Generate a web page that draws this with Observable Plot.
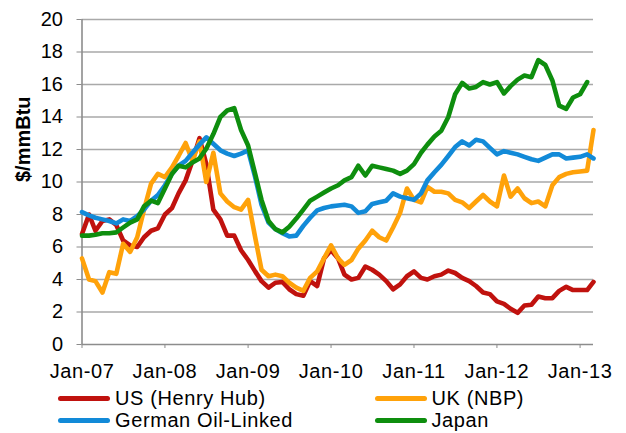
<!DOCTYPE html>
<html>
<head>
<meta charset="utf-8">
<script src="https://cdn.jsdelivr.net/npm/d3@7"></script>
<script src="https://cdn.jsdelivr.net/npm/@observablehq/plot@0.6"></script>
<style>
  body { margin: 0; background: #fff; font-family: "Liberation Sans", Arial, sans-serif; }
  #chart svg { display: block; }
  .legend { position: relative; width: 626px; height: 47px; font-size: 20px; color: #000; letter-spacing: 0.6px; }
  .item { position: absolute; display: flex; align-items: center; height: 22px; white-space: nowrap; }
  .sw { width: 52px; height: 5px; border-radius: 3px; margin-right: 5px; }
</style>
</head>
<body>
<div id="chart"></div>
<div class="legend" id="legend"></div>
<script>
// Series names and colours
const seriesNames = ["US (Henry Hub)", "UK (NBP)", "German Oil-Linked", "Japan"];
const seriesColors = ["#C0120E", "#FFA20A", "#128AD8", "#0E8E0E"];

// X-axis tick labels (one per January)
const tickLabels = ["Jan-07", "Jan-08", "Jan-09", "Jan-10", "Jan-11", "Jan-12", "Jan-13"];
const yTicks = [0, 2, 4, 6, 8, 10, 12, 14, 16, 18, 20];

// Monthly values, Jan-07 .. Mar-13 ($/mmBtu)
const usHenryHub = [
  6.8, 8.0, 7.0, 7.6, 7.7, 7.35, 6.4, 6.1, 6.0, 6.6, 7.0, 7.15,
  8.0, 8.4, 9.3, 10.1, 11.3, 12.7, 11.1, 8.3, 7.7, 6.7, 6.7, 5.8,
  5.2, 4.5, 3.9, 3.5, 3.8, 3.85, 3.4, 3.1, 3.0, 3.9, 3.6, 5.3,
  5.8, 5.3, 4.3, 4.0, 4.1, 4.8, 4.6, 4.3, 3.9, 3.4, 3.7, 4.2,
  4.5, 4.1, 4.0, 4.2, 4.3, 4.55, 4.4, 4.1, 3.9, 3.6, 3.2, 3.1,
  2.65, 2.5, 2.2, 1.95, 2.4, 2.45, 2.95, 2.85, 2.85, 3.3, 3.55, 3.35,
  3.35, 3.35, 3.85
];
const ukNBP = [
  5.3, 4.0, 3.9, 3.2, 4.45, 4.35, 6.2, 5.7, 6.6, 8.3, 9.9, 10.5,
  10.3, 10.9, 11.6, 12.4, 11.3, 12.5, 10.0, 11.8, 9.3, 8.8, 8.45, 8.3,
  8.9, 6.6, 4.6, 4.2, 4.3, 4.2, 3.8, 3.5, 3.3, 4.1, 4.5, 5.3,
  6.1, 5.3, 4.9, 5.2, 5.9, 6.4, 7.0, 6.6, 6.4, 7.2, 8.1, 9.6,
  8.9, 8.75, 9.7, 9.4, 9.4, 9.3, 8.9, 8.75, 8.4, 8.8, 9.2, 8.8,
  8.5, 10.4, 9.1, 9.6, 9.0, 8.7, 8.8, 8.5, 9.8, 10.3, 10.5, 10.6,
  10.65, 10.7, 13.2
];
const germanOilLinked = [
  8.15, 7.95, 7.8, 7.7, 7.6, 7.45, 7.7, 7.6, 7.9, 8.3, 8.85, 9.2,
  9.8, 10.5, 11.0, 11.3, 11.8, 12.3, 12.75, 12.35, 11.95, 11.75, 11.6, 11.75,
  11.95, 10.3, 8.6, 7.5, 7.1, 6.85, 6.65, 6.7, 7.3, 7.8, 8.25, 8.4,
  8.5, 8.55, 8.6, 8.5, 8.1, 8.2, 8.65, 8.75, 8.85, 9.3, 9.1, 9.0,
  8.9, 9.3, 10.1, 10.6, 11.05, 11.6, 12.15, 12.5, 12.25, 12.6, 12.5, 12.1,
  11.7, 11.9, 11.8, 11.7, 11.55, 11.4, 11.3, 11.5, 11.7, 11.7, 11.45, 11.5,
  11.55, 11.7, 11.45
];
const japan = [
  6.7, 6.7, 6.75, 6.85, 6.85, 6.9, 7.2, 7.5, 7.7, 8.5, 8.85, 8.7,
  9.6, 10.5, 11.0, 10.9, 11.2, 11.45, 12.05, 12.95, 14.0, 14.4, 14.55, 13.2,
  12.25, 10.5, 8.9, 7.6, 7.1, 6.9, 7.25, 7.75, 8.3, 8.85, 9.1, 9.35,
  9.6, 9.8, 10.1, 10.3, 11.0, 10.4, 11.0, 10.9, 10.8, 10.7, 10.5, 10.7,
  11.1, 11.8, 12.3, 12.8, 13.15, 14.0, 15.4, 16.1, 15.75, 15.85, 16.15, 16.0,
  16.15, 15.45, 15.9, 16.3, 16.55, 16.45, 17.5, 17.2, 16.25, 14.7, 14.5, 15.2,
  15.4, 16.15, null
];

const seriesValues = [usHenryHub, ukNBP, germanOilLinked, japan];
const months = d3.utcMonth.range(new Date(Date.UTC(2007, 0, 1)), new Date(Date.UTC(2013, 3, 1)));
const yearTicks = d3.utcYear.range(new Date(Date.UTC(2007, 0, 1)), new Date(Date.UTC(2014, 0, 1)));

const rows = [];
seriesNames.forEach((name, i) => {
  seriesValues[i].forEach((v, j) => {
    if (v != null) rows.push({ series: name, date: months[j], value: v });
  });
});

const font = '"Liberation Sans", Arial, sans-serif';
const grid = "#a9a9a9";
const axisGray = "#8c8c8c";

const chart = Plot.plot({
  width: 626,
  height: 386,
  marginLeft: 81.5,
  marginRight: 33,
  marginTop: 19,
  marginBottom: 42,
  style: { fontFamily: font, fontSize: "20px", color: "#000", background: "#fff" },
  x: { type: "utc", domain: [months[0], months[months.length - 1]] },
  y: { domain: [0, 20] },
  color: { domain: seriesNames, range: seriesColors },
  marks: [
    Plot.gridY(yTicks.filter(d => d > 0), { stroke: grid, strokeOpacity: 1, strokeWidth: 1.6 }),
    Plot.ruleY([0], { stroke: axisGray, strokeWidth: 1.6 }),
    Plot.ruleX([months[0]], { stroke: axisGray, strokeWidth: 1.6 }),
    Plot.axisY({ ticks: yTicks, tickSize: 5, tickPadding: 14, stroke: axisGray, strokeOpacity: 1, label: null, fontSize: 20, tickFormat: d => String(d) }),
    Plot.axisX({ ticks: yearTicks, tickSize: 4, tickPadding: 15, stroke: axisGray, strokeOpacity: 1, label: null, fontSize: 20, tickFormat: (d, i) => tickLabels[i] }),
    Plot.line(rows, { x: "date", y: "value", z: "series", stroke: "series", strokeWidth: 4.6, strokeLinejoin: "round", strokeLinecap: "round" }),
    Plot.text(["$/mmBtu"], { frameAnchor: "left", rotate: -90, dx: -58.5, fontWeight: "bold", fontSize: 20, fill: "#000" })
  ]
});
document.getElementById("chart").appendChild(chart);
d3.select(chart).selectAll('g[aria-label="x-axis tick label"] text').style("letter-spacing", "0.6px");

// Legend
const legendPos = [
  { left: 58, top: 1 },
  { left: 374.5, top: 1 },
  { left: 58, top: 23.5 },
  { left: 374.5, top: 23.5 }
];
const legend = document.getElementById("legend");
seriesNames.forEach((name, i) => {
  const item = document.createElement("div");
  item.className = "item";
  item.style.left = legendPos[i].left + "px";
  item.style.top = legendPos[i].top + "px";
  const sw = document.createElement("div");
  sw.className = "sw";
  sw.style.background = seriesColors[i];
  const label = document.createElement("span");
  label.textContent = name;
  item.appendChild(sw);
  item.appendChild(label);
  legend.appendChild(item);
});
</script>
</body>
</html>
